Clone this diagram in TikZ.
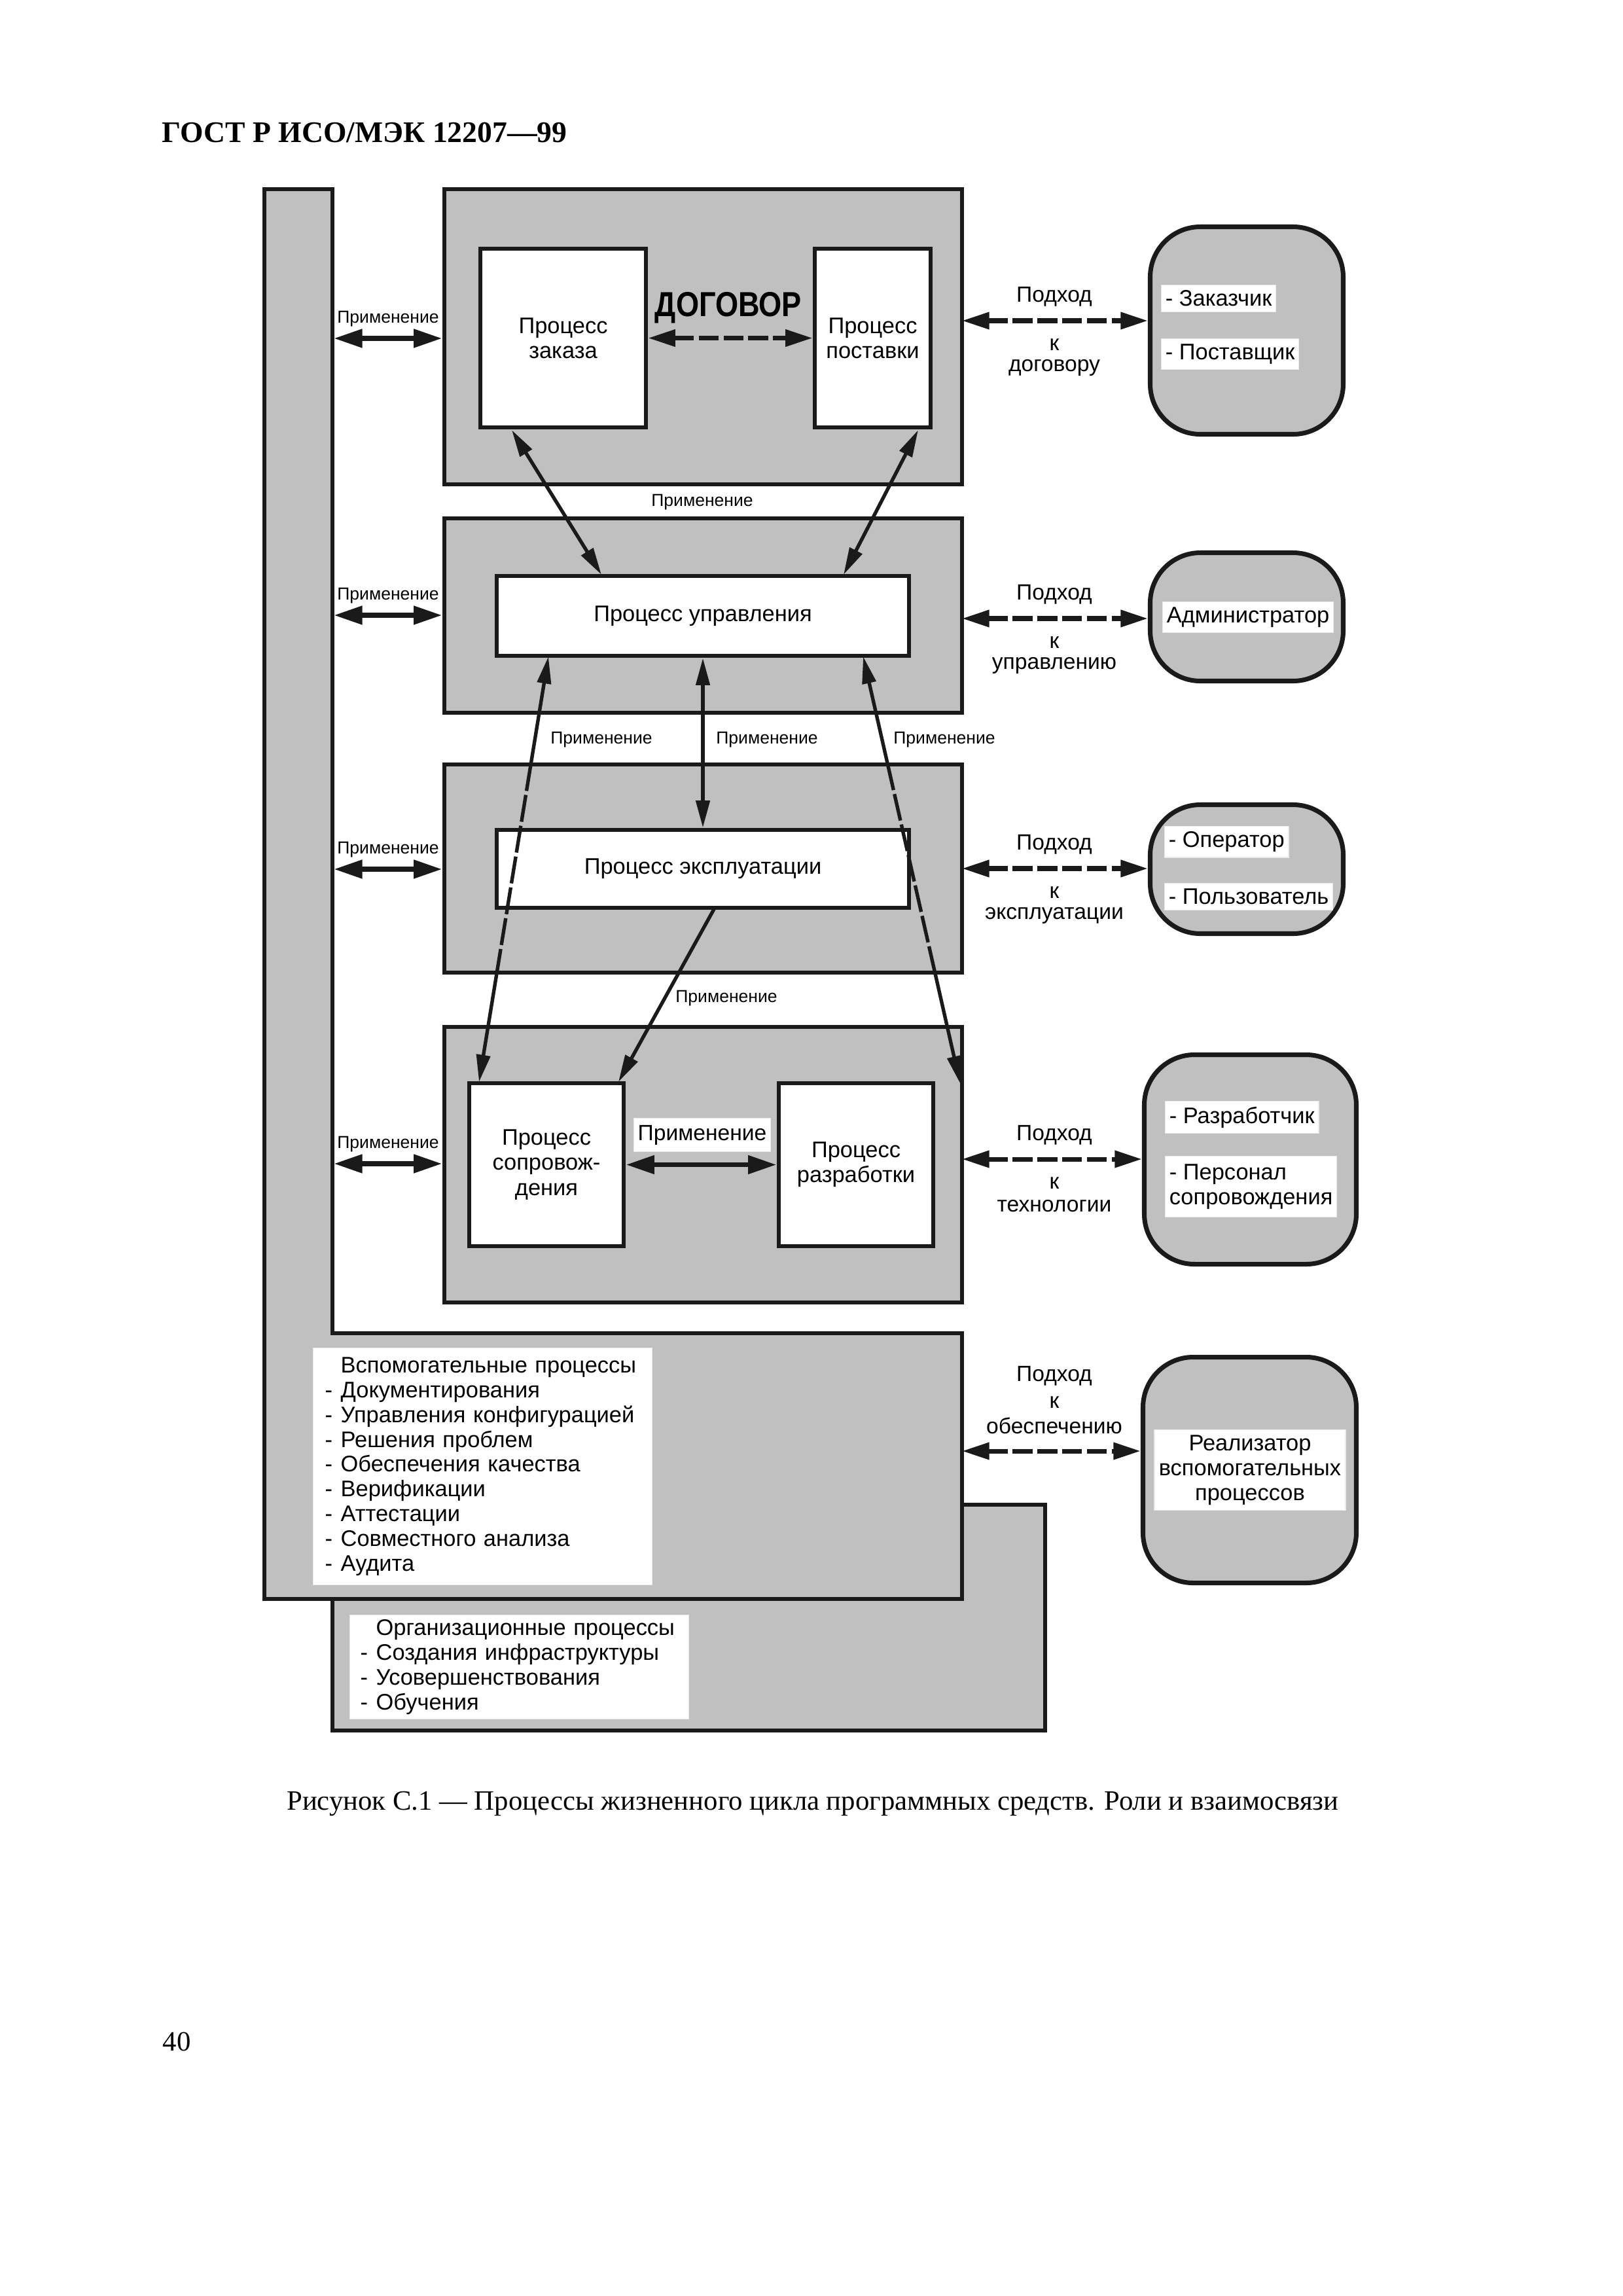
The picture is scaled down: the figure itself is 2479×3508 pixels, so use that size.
\documentclass[tikz,border=0pt]{standalone}
\usepackage{fontspec}
\usepackage{graphicx}
\setmainfont{Liberation Sans}
\newfontfamily\seriffont{Liberation Serif}
\usetikzlibrary{arrows.meta,positioning,calc}
\definecolor{boxgray}{RGB}{192,192,192}
\definecolor{inkblack}{RGB}{26,26,26}
\def\px{0.08471mm}
\def\itm{\makebox[5.8pt][l]{-}}

\tikzset{
  blockbox/.style={draw=inkblack, line width=1.6pt, fill=boxgray, inner sep=0pt},
  procbox/.style={draw=inkblack, line width=1.6pt, fill=white, align=center, inner sep=0pt, font=\fontsize{8.3}{9.2}\selectfont},
  rolebox/.style={draw=inkblack, line width=1.7pt, fill=boxgray, rounded corners=0.65cm, inner sep=0pt},
  roletext/.style={fill=white, draw=black!8, line width=0.3pt, inner xsep=1.5pt, inner ysep=2pt, align=left, anchor=west, font=\fontsize{8.3}{9.1}\selectfont},
  listbox/.style={fill=white, draw=black!8, line width=0.3pt, align=left, inner ysep=0pt, font=\fontsize{8.3}{9.12}\selectfont},
  uselabel/.style={font=\fontsize{6.4}{7}\selectfont, inner sep=0pt},
  apprlabel/.style={font=\fontsize{8.1}{9}\selectfont, inner sep=0pt},
  thickarrow/.style={draw=inkblack, line width=1.9pt, {Triangle[length=10.5pt,width=6.5pt]}-{Triangle[length=10.5pt,width=6.5pt]}},
  dasharrow/.style={draw=inkblack, line width=1.7pt, dash pattern=on 7.3pt off 1.8pt, {Triangle[length=10pt,width=6pt]}-{Triangle[length=10pt,width=6pt]}},
  thinline/.style={draw=inkblack, line width=1.3pt},
  thinarrow/.style={thinline, {Triangle[length=10pt,width=5pt]}-{Triangle[length=10pt,width=5pt]}},
}

\begin{document}
\begin{tikzpicture}[x=\px, y=-\px]
  \useasboundingbox (0,0) rectangle (2479,3508);

%header
  \node[anchor=base west, inner sep=0pt, font=\seriffont\bfseries\fontsize{11}{13}\selectfont] (gost) at (247,217) {ГОСТ Р ИСО/МЭК 12207—99};

%organisational + supporting (L shape)
  \draw[blockbox] (508,2299) rectangle (1597,2644);
  \draw[blockbox] (404,289) -- (508,289) -- (508,2037) -- (1470,2037) -- (1470,2443) -- (404,2443) -- cycle;

%blocks
  \foreach \name/\yc/\h in {blk1/514.5/451, blk2/940.5/297, blk3/1327/318, blk4/1779.5/421} {
    \node[blockbox, minimum width=791*\px, minimum height=\h*\px] (\name) at (1074.5,\yc) {};
  }

%processes
  \node[procbox, minimum width=253*\px, minimum height=273*\px] (zakaz) at (860.5,516.5) {Процесс\\заказа};
  \node[procbox, minimum width=177*\px, minimum height=273*\px] (postavka) at (1333.5,516.5) {Процесс\\поставки};
  \node[procbox, minimum width=630*\px, minimum height=122*\px] (upr) at (1074,941) {Процесс управления};
  \node[procbox, minimum width=630*\px, minimum height=119*\px] (expl) at (1074,1327.5) {Процесс эксплуатации};
  \node[procbox, minimum width=236*\px, minimum height=249*\px] (sopr) at (835,1779.5) {Процесс\\сопровож-\\дения};
  \node[procbox, minimum width=236*\px, minimum height=249*\px] (razr) at (1308,1779.5) {Процесс\\разработки};

%contract
  \node[inner sep=0pt, font=\bfseries\fontsize{12.8}{14}\selectfont] (dogovor) at (1113,470) {\scalebox{0.85}[1]{ДОГОВОР}};
  \draw[dasharrow] (zakaz.east) -- (postavka.west);

%left column
  \foreach \y/\b in {517/blk1, 940/blk2, 1328/blk3, 1778/blk4} {
    \coordinate (bar\b) at (510,\y);
    \draw[thickarrow] (bar\b) -- (bar\b -| \b.west);
    \node[uselabel] (use\b) at (593,\y-30) {Применение};
  }

%inner links
  \coordinate (zakS) at (782,657);
  \coordinate (uprNW) at (919,878);
  \coordinate (postS) at (1403,657);
  \coordinate (uprNE) at (1289,878);
  \coordinate (uprSW) at (838,1003);
  \coordinate (soprN) at (732,1653);
  \coordinate (uprSE) at (1319,1003);
  \coordinate (blkE) at (1467,1655);
  \coordinate (explS) at (1091,1389);
  \coordinate (soprNE) at (945,1653);

  \draw[thinarrow] (zakS) -- (uprNW);
  \draw[thinarrow] (postS) -- (uprNE);
  \draw[thinarrow] (upr.south) -- (expl.north);

  \draw[thinline, {Triangle[length=10pt,width=5pt]}-] (uprSW) -- ($(uprSW)!0.253!(soprN)$);
  \draw[thinline, dash pattern=on 10pt off 1.5pt] ($(uprSW)!0.253!(soprN)$) -- ($(uprSW)!0.746!(soprN)$);
  \draw[thinline, -{Triangle[length=10pt,width=5pt]}] ($(uprSW)!0.746!(soprN)$) -- (soprN);

  \draw[thinline, {Triangle[length=10pt,width=5pt]}-] (uprSE) -- ($(uprSE)!0.251!(blkE)$);
  \draw[thinline, dash pattern=on 10pt off 1.5pt] ($(uprSE)!0.251!(blkE)$) -- ($(uprSE)!0.740!(blkE)$);
  \draw[thinline, -{Triangle[length=10pt,width=5pt]}] ($(uprSE)!0.740!(blkE)$) -- (blkE);

  \draw[thinline, -{Triangle[length=10pt,width=5pt]}] (explS) -- (soprNE);

  \node[uselabel] (use12) at (1073,767) {Применение};
  \node[uselabel] (use23a) at (919,1130) {Применение};
  \node[uselabel] (use23b) at (1172,1130) {Применение};
  \node[uselabel] (use23c) at (1443,1130) {Применение};
  \node[uselabel] (use34) at (1110,1525) {Применение};

  \draw[thickarrow] (sopr.east) -- (razr.west);
  \node[fill=white, draw=black!8, line width=0.3pt, inner xsep=1.5pt, inner ysep=2.5pt, font=\fontsize{8.1}{9}\selectfont] (use44) at (1073,1734) {Применение};

%roles
  \node[rolebox, minimum width=295*\px, minimum height=317*\px] (role1) at (1905,505) {};
  \node[rolebox, minimum width=295*\px, minimum height=196*\px] (role2) at (1905,942.5) {};
  \node[rolebox, minimum width=295*\px, minimum height=197*\px] (role3) at (1905,1328) {};
  \node[rolebox, minimum width=324*\px, minimum height=320*\px] (role4) at (1910.5,1771.5) {};
  \node[rolebox, minimum width=326*\px, minimum height=345*\px] (role5) at (1909.5,2246) {};

  \foreach \y/\r/\txt in {490/role1/договору, 945/role2/управлению, 1327/role3/эксплуатации, 1771/role4/технологии} {
    \coordinate (app\r) at (1470,\y);
    \draw[dasharrow] (app\r) -- (app\r -| \r.west);
    \node[apprlabel] (pod\r) at (1611,\y-37) {Подход};
    \node[apprlabel] (k\r) at (1611,\y+37) {к};
    \node[apprlabel] (t\r) at (1611,\y+72) {\txt};
  }

  \coordinate (apprrole5) at (1470,2217);
  \draw[dasharrow] (apprrole5) -- (apprrole5 -| role5.west);
  \node[apprlabel] (podrole5) at (1611,2102) {Подход};
  \node[apprlabel] (krole5) at (1611,2143) {к};
  \node[apprlabel] (trole5) at (1611,2178) {обеспечению};

  \node[roletext] (zakazchik) at (1774,456) {- Заказчик};
  \node[roletext] (postavshik) at (1774,541) {- Поставщик};
  \node[roletext] (admin) at (1776,943) {Администратор};
  \node[roletext] (operator) at (1779,1286) {- Оператор};
  \node[roletext] (polzovatel) at (1779,1370) {- Пользователь};
  \node[roletext] (razrabotchik) at (1780,1707) {- Разработчик};
  \node[roletext, inner ysep=3pt] (personal) at (1780,1813) {- Персонал\\сопровождения};
  \node[roletext, anchor=center, align=center, minimum width=292*\px, minimum height=122*\px] (realizator) at (1910,2246) {Реализатор\\вспомогательных\\процессов};

%lists
  \node[listbox, anchor=north west, text width=482*\px, inner xsep=18*\px, minimum height=362*\px] (suplist) at (478,2059)
    {\hspace*{5.8pt}Вспомогательные процессы\\
     \itm Документирования\\
     \itm Управления конфигурацией\\
     \itm Решения проблем\\
     \itm Обеспечения качества\\
     \itm Верификации\\
     \itm Аттестации\\
     \itm Совместного анализа\\
     \itm Аудита};
  \node[listbox, anchor=north west, text width=486*\px, inner xsep=16*\px, minimum height=159*\px] (orglist) at (534,2467)
    {\hspace*{5.8pt}Организационные процессы\\
     \itm Создания инфраструктуры\\
     \itm Усовершенствования\\
     \itm Обучения};

%caption
  \node[anchor=base, inner sep=0pt, font=\seriffont\fontsize{10.3}{12}\selectfont] (caption) at (1242,2765) {Рисунок С.1 — Процессы жизненного цикла программных средств. Роли и взаимосвязи};
  \node[anchor=base west, inner sep=0pt, font=\seriffont\fontsize{10.3}{12}\selectfont] (pagenum) at (248,3133) {40};
\end{tikzpicture}
\end{document}
